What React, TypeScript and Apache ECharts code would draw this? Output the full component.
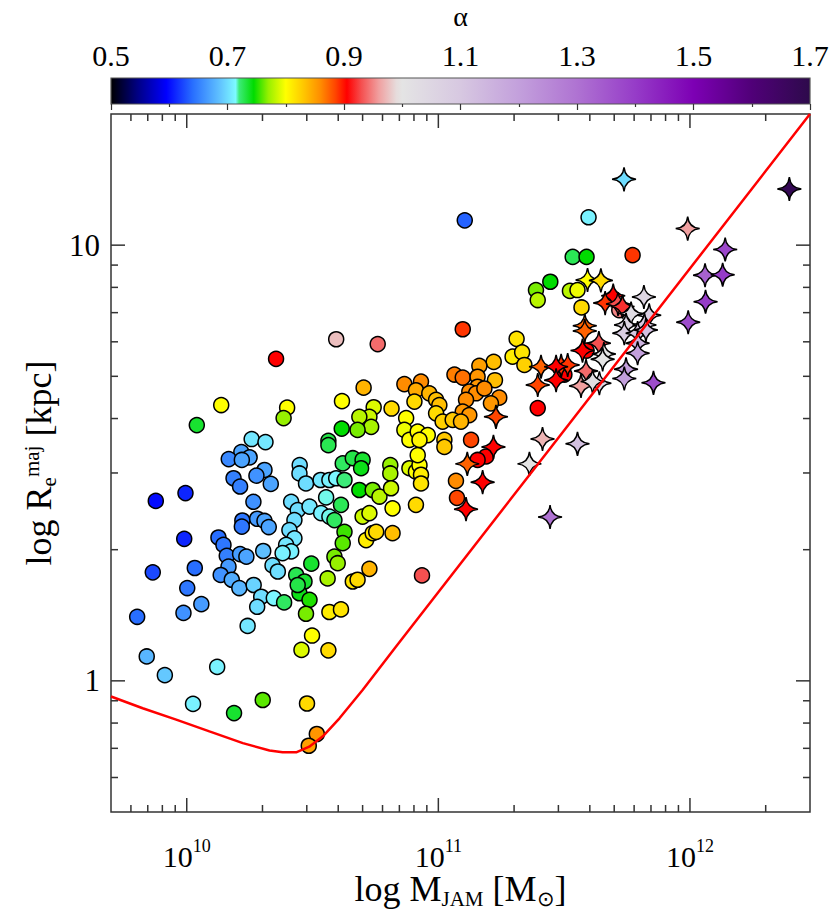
import React, { useEffect, useRef } from 'react';
import * as echarts from 'echarts';

// ---- data (log10 values) ----
const circleLogM = [
  9.877, 9.995, 9.990, 9.865, 10.032, 10.002, 10.058, 9.987, 9.803, 9.841, 9.913, 10.121, 10.242, 10.025, 10.188, 10.302, 10.478, 10.517, 10.485,
  10.355, 10.594, 10.137, 10.399, 10.385, 10.040, 10.258, 10.313, 10.217, 10.250, 10.167, 10.219, 10.309, 10.449, 10.563, 10.563,
  10.186, 10.212, 10.277, 10.334, 10.265, 10.221, 10.219, 10.280, 10.309, 10.326, 10.126, 10.146, 10.159, 10.212, 10.237, 10.304, 10.166, 10.135, 10.179, 10.209, 10.266, 10.296, 10.280, 10.341, 10.362, 10.346, 10.387,
  10.448, 10.474, 10.532, 10.567, 10.594, 10.627, 10.415, 10.441, 10.428, 10.408, 10.428, 10.395, 10.415, 10.381, 10.488, 10.534, 10.567, 10.554, 10.587, 10.613,
  10.495, 10.435, 10.468, 10.448, 10.441, 10.488, 10.474, 10.560, 10.498, 10.456, 10.563, 10.567, 10.613, 10.587, 10.600, 10.627, 10.620,
  10.620, 10.660, 10.699, 10.693, 10.686, 10.739, 10.766, 10.809, 10.809, 10.812, 10.818, 10.885, 10.911, 10.925, 10.931, 10.931, 10.918, 10.911,
  10.699, 10.726, 10.713, 10.739, 10.753, 10.818, 10.726, 10.660, 10.679, 10.935, 11.070, 11.074,
  11.105, 11.445, 11.388, 11.395, 11.097, 10.759, 11.311, 11.295, 11.333, 11.342, 11.220, 11.163, 11.064, 11.097, 11.225, 11.156, 11.156, 11.123, 11.150, 11.183, 11.110, 11.097, 11.123, 11.242, 11.209,
  10.865, 10.931, 10.911, 10.964, 10.991, 11.004, 10.703, 10.905, 10.814, 10.743, 10.726, 10.686, 10.733, 10.679, 10.617, 10.616, 10.872, 10.865, 10.885, 10.918, 10.958, 10.925, 10.991, 11.017, 11.057, 11.090, 11.024, 11.024,
  11.130, 11.190, 11.156, 11.395,
  11.597, 11.534, 11.589, 11.772, 11.523, 11.553, 11.569, 11.719, 11.589, 11.501,
];
const circleLogR = [
  0.413, 0.431, 0.326, 0.249, 0.259, 0.213, 0.176, 0.156, 0.147, 0.056, 0.013, 0.032, 0.126, -0.053, -0.074, -0.044, -0.052, -0.122, -0.149,
  0.739, 0.784, 0.633, 0.627, 0.603, 0.587, 0.555, 0.548, 0.525, 0.513, 0.509, 0.507, 0.484, 0.495, 0.551, 0.541,
  0.465, 0.446, 0.471, 0.452, 0.411, 0.368, 0.354, 0.372, 0.367, 0.353, 0.329, 0.312, 0.287, 0.291, 0.285, 0.298, 0.262, 0.243, 0.232, 0.213, 0.220, 0.193, 0.170, 0.265, 0.251, 0.190, 0.180,
  0.476, 0.453, 0.461, 0.461, 0.465, 0.461, 0.411, 0.392, 0.369, 0.346, 0.327, 0.312, 0.297, 0.293, 0.400, 0.385, 0.377, 0.421, 0.369, 0.404,
  0.269, 0.243, 0.228, 0.201, 0.220, 0.186, 0.154, 0.235, 0.104, 0.071, 0.070, 0.158, 0.164, 0.285, 0.270, 0.342, 0.316,
  0.499, 0.511, 0.507, 0.488, 0.438, 0.438, 0.423, 0.495, 0.476, 0.442, 0.396, 0.488, 0.480, 0.495, 0.473, 0.453, 0.518, 0.404,
  0.377, 0.385, 0.323, 0.339, 0.342, 0.339, 0.257, 0.228, 0.232, 0.242, 0.459, 0.420,
  1.057, 0.916, 0.897, 0.874, 0.807, 0.773, 0.785, 0.744, 0.754, 0.725, 0.732, 0.723, 0.703, 0.696, 0.690, 0.698, 0.675, 0.664, 0.660, 0.671, 0.645, 0.618, 0.610, 0.650, 0.637,
  0.681, 0.687, 0.667, 0.660, 0.645, 0.633, 0.673, 0.641, 0.625, 0.628, 0.606, 0.606, 0.583, 0.576, 0.642, 0.579, 0.603, 0.576, 0.553, 0.572, 0.564, 0.553, 0.614, 0.595, 0.599, 0.595, 0.553, 0.537,
  0.553, 0.515, 0.507, 0.626,
  1.064, 0.973, 0.973, 0.977, 0.895, 0.897, 0.857, 0.851, 0.758, 0.703,
];
const circleAlpha = [
  0.60, 0.61, 0.61, 0.625, 0.64, 0.645, 0.665, 0.66, 0.64, 0.68, 0.69, 0.71, 0.705, 0.71, 0.735, 0.76, 0.82, 0.855, 0.85,
  0.905, 0.975, 0.80, 0.80, 0.77, 0.735, 0.705, 0.705, 0.67, 0.67, 0.655, 0.67, 0.67, 0.70, 0.73, 0.728,
  0.65, 0.65, 0.66, 0.67, 0.66, 0.645, 0.645, 0.665, 0.67, 0.67, 0.64, 0.645, 0.65, 0.665, 0.67, 0.685, 0.665, 0.66, 0.675, 0.68, 0.695, 0.70, 0.70, 0.70, 0.70, 0.712, 0.725,
  0.70, 0.70, 0.705, 0.71, 0.712, 0.72, 0.70, 0.70, 0.70, 0.70, 0.705, 0.705, 0.71, 0.71, 0.705, 0.71, 0.715, 0.715, 0.725, 0.727,
  0.735, 0.728, 0.735, 0.74, 0.73, 0.75, 0.765, 0.775, 0.80, 0.79, 0.82, 0.81, 0.815, 0.765, 0.77, 0.755, 0.76,
  0.725, 0.73, 0.735, 0.74, 0.745, 0.765, 0.78, 0.77, 0.775, 0.785, 0.80, 0.79, 0.80, 0.80, 0.81, 0.815, 0.80, 0.82,
  0.785, 0.79, 0.81, 0.815, 0.82, 0.835, 0.84, 0.815, 0.82, 0.93, 0.86, 0.885,
  0.635, 0.745, 0.765, 0.78, 0.89, 0.94, 0.815, 0.81, 0.815, 0.825, 0.835, 0.85, 0.865, 0.87, 0.835, 0.855, 0.855, 0.86, 0.86, 0.86, 0.86, 0.855, 0.855, 0.86, 0.855,
  0.86, 0.86, 0.845, 0.84, 0.835, 0.835, 0.84, 0.82, 0.82, 0.79, 0.785, 0.78, 0.775, 0.765, 0.80, 0.745, 0.80, 0.795, 0.80, 0.80, 0.80, 0.805, 0.82, 0.825, 0.83, 0.84, 0.83, 0.83,
  0.885, 0.905, 0.905, 0.905,
  0.71, 0.727, 0.745, 0.89, 0.78, 0.795, 0.82, 0.95, 0.905, 0.905,
];

const starLogM = [11.738, 12.395, 11.991, 12.140, 12.060, 12.130, 12.062, 11.993, 11.855, 11.593, 11.646, 11.695, 11.663, 11.714, 11.732, 11.817, 11.766, 11.838, 11.746, 11.819, 11.739, 11.792, 11.825, 11.792, 11.792, 11.582, 11.582, 11.573, 11.638, 11.658, 11.653, 11.488, 11.514, 11.408, 11.468, 11.395, 11.468, 11.587, 11.567, 11.640, 11.613, 11.746, 11.739, 11.553, 11.414, 11.362, 11.444, 11.229, 11.219, 11.115, 11.176, 11.110];
const starLogR = [1.151, 1.129, 1.038, 0.990, 0.931, 0.932, 0.870, 0.823, 0.684, 0.920, 0.919, 0.884, 0.867, 0.865, 0.859, 0.881, 0.843, 0.839, 0.817, 0.817, 0.798, 0.798, 0.805, 0.775, 0.752, 0.815, 0.803, 0.758, 0.775, 0.750, 0.738, 0.723, 0.725, 0.721, 0.721, 0.679, 0.690, 0.711, 0.677, 0.683, 0.687, 0.715, 0.694, 0.544, 0.555, 0.498, 0.376, 0.606, 0.537, 0.498, 0.456, 0.394];
const starAlpha = [0.70, 1.68, 0.96, 1.38, 1.33, 1.40, 1.40, 1.37, 1.37, 0.80, 0.82, 0.905, 0.89, 0.93, 0.92, 1.05, 1.03, 1.08, 1.05, 1.10, 1.08, 1.10, 1.12, 1.15, 1.20, 0.875, 0.875, 0.905, 0.93, 1.0, 1.0, 0.89, 0.89, 0.875, 0.905, 0.885, 0.905, 0.94, 0.96, 1.05, 1.02, 1.20, 1.20, 1.12, 0.97, 1.0, 1.30, 0.885, 0.905, 0.875, 0.905, 0.905];

// zone-of-exclusion curve
const zoeLogM = [9.699, 9.825, 9.958, 10.090, 10.223, 10.329, 10.381, 10.435, 10.487, 10.540, 10.607, 10.699, 10.832, 11.441, 12.477];
const zoeLogR = [-0.036, -0.063, -0.089, -0.116, -0.143, -0.160, -0.164, -0.164, -0.151, -0.128, -0.086, -0.021, 0.079, 0.531, 1.301];

// axis ticks
const xMajorTicks = [1e10, 1e11, 1e12];
const xMinorTicks = [6e9, 7e9, 8e9, 9e9, 2e10, 3e10, 4e10, 5e10, 6e10, 7e10, 8e10, 9e10, 2e11, 3e11, 4e11, 5e11, 6e11, 7e11, 8e11, 9e11, 2e12];
const yMajorTicks = [1, 10];
const yMinorTicks = [0.6, 0.7, 0.8, 0.9, 2, 3, 4, 5, 6, 7, 8, 9];

// colour table (alpha -> rgb)
const cmAlpha = [0.50, 0.545, 0.595, 0.64, 0.69, 0.714, 0.72, 0.745, 0.77, 0.80, 0.83, 0.86, 0.885, 0.905, 0.93, 0.96, 0.99, 1.00, 1.10, 1.20, 1.30, 1.40, 1.50, 1.60, 1.70];
const cmRGB = [
  [0, 0, 0], [0, 0, 130], [0, 0, 255], [40, 110, 255], [100, 200, 255], [125, 250, 255], [60, 235, 120], [0, 220, 0],
  [150, 240, 0], [255, 255, 0], [255, 200, 0], [255, 140, 0], [255, 70, 0], [255, 0, 0], [245, 80, 80], [240, 160, 160],
  [230, 220, 220], [228, 228, 228], [215, 200, 225], [195, 160, 220], [175, 115, 210], [150, 60, 200], [125, 0, 180],
  [80, 0, 120], [45, 10, 75],
];
const cbMin = 0.5;
const cbMax = 1.7;

const FONT = "'Liberation Serif', 'Times New Roman', Times, serif";

function alphaColor(a: number): string {
  let c = cmRGB[cmRGB.length - 1];
  if (a <= cmAlpha[0]) c = cmRGB[0];
  else {
    for (let i = 1; i < cmAlpha.length; i++) {
      if (a <= cmAlpha[i]) {
        const t = (a - cmAlpha[i - 1]) / (cmAlpha[i] - cmAlpha[i - 1]);
        const p = cmRGB[i - 1], q = cmRGB[i];
        c = [0, 1, 2].map((k) => Math.round(p[k] + (q[k] - p[k]) * t));
        break;
      }
    }
  }
  return `rgb(${c[0]},${c[1]},${c[2]})`;
}

const STAR = 'path://M0,-10 Q0.9,-0.9 10,0 Q0.9,0.9 0,10 Q-0.9,0.9 -10,0 Q-0.9,-0.9 0,-10 Z';

export default function App() {
  const ref = useRef<HTMLDivElement>(null);
  useEffect(() => {
    if (!ref.current) return;
    const chart = echarts.init(ref.current, null, { renderer: 'svg' });

    const n1 = Math.min(circleLogM.length, circleLogR.length, circleAlpha.length);
    const circles = [];
    for (let i = 0; i < n1; i++) circles.push([Math.pow(10, circleLogM[i]), Math.pow(10, circleLogR[i]), circleAlpha[i]]);
    const n2 = Math.min(starLogM.length, starLogR.length, starAlpha.length);
    const stars = [];
    for (let i = 0; i < n2; i++) stars.push([Math.pow(10, starLogM[i]), Math.pow(10, starLogR[i]), starAlpha[i]]);
    const zoe = zoeLogM.map((m, i) => [Math.pow(10, m), Math.pow(10, zoeLogR[i])]);

    const tickData = [
      ...xMajorTicks.map((v) => [v, 1, 0]),
      ...xMinorTicks.map((v) => [v, 1, 1]),
      ...yMajorTicks.map((v) => [1e10, v, 2]),
      ...yMinorTicks.map((v) => [1e10, v, 3]),
    ];

    const stops = cmAlpha.map((a, i) => ({ offset: (a - cbMin) / (cbMax - cbMin), color: `rgb(${cmRGB[i].join(',')})` }));

    const big = 30;
    const small = 18;
    const title = 36;
    const titleSub = 21;

    const option = {
      animation: false,
      backgroundColor: '#fff',
      textStyle: { fontFamily: FONT, color: '#000' },
      grid: [
        { left: 111, right: 20, top: 114, bottom: 100, show: true, borderColor: '#333', borderWidth: 1.5, backgroundColor: 'transparent', containLabel: false, outerBoundsMode: 'none' },
        { left: 111, right: 20, top: 78, height: 26, containLabel: false, outerBoundsMode: 'none' },
      ],
      xAxis: [
        {
          type: 'log', logBase: 10, gridIndex: 0, min: 5e9, max: 3e12,
          axisLine: { show: false }, axisTick: { show: false }, splitLine: { show: false },
          axisLabel: {
            showMinLabel: false, showMaxLabel: false, margin: 25,
            formatter: (v: number) => `{b|10}{p|${Math.round(Math.log10(v))}}`,
            rich: {
              b: { fontSize: big, fontFamily: FONT, color: '#000', lineHeight: 34, verticalAlign: 'bottom' },
              p: { fontSize: small, fontFamily: FONT, color: '#000', lineHeight: 16, verticalAlign: 'top' },
            },
          },
          name: '{n|log M}{s|JAM}{n| [M}{s|⊙}{n|]}',
          nameLocation: 'middle', nameGap: 59, nameMoveOverlap: false,
          nameTextStyle: {
            rich: {
              n: { fontSize: title, fontFamily: FONT, color: '#000', lineHeight: 38, verticalAlign: 'top' },
              s: { fontSize: titleSub, fontFamily: FONT, color: '#000', lineHeight: 14, verticalAlign: 'bottom' },
            },
          },
        },
        {
          type: 'value', gridIndex: 1, min: cbMin, max: cbMax, interval: 0.2, position: 'top', z: 5,
          axisLine: { show: false },
          axisTick: { show: true, inside: true, length: 6, lineStyle: { color: '#333', width: 1.2 } },
          minorTick: { show: true, splitNumber: 2, length: 3, lineStyle: { color: '#333', width: 1.2 } },
          splitLine: { show: false }, minorSplitLine: { show: false },
          axisLabel: { fontSize: big, fontFamily: FONT, color: '#000', margin: 8, formatter: (v: number) => v.toFixed(1) },
          name: 'α', nameLocation: 'middle', nameGap: 48, nameMoveOverlap: false,
          nameTextStyle: { fontSize: 28, lineHeight: 28, fontFamily: FONT, color: '#000' },
        },
      ],
      yAxis: [
        {
          type: 'log', logBase: 10, gridIndex: 0, min: 0.5, max: 20,
          axisLine: { show: false }, axisTick: { show: false }, splitLine: { show: false },
          axisLabel: {
            showMinLabel: false, showMaxLabel: false, margin: 11, fontSize: 31, fontFamily: FONT, color: '#000',
            formatter: (v: number) => String(Math.round(v)),
          },
          name: '{n|log R}{s|e}{p|maj}{n| [kpc]}',
          nameLocation: 'middle', nameRotate: 90, nameGap: 52, nameMoveOverlap: false,
          nameTextStyle: {
            rich: {
              n: { fontSize: title, fontFamily: FONT, color: '#000', lineHeight: 38, verticalAlign: 'top' },
              s: { fontSize: titleSub, fontFamily: FONT, color: '#000', lineHeight: 14, verticalAlign: 'bottom' },
              p: { fontSize: titleSub, fontFamily: FONT, color: '#000', lineHeight: 14, verticalAlign: 'top' },
            },
          },
        },
        { type: 'value', gridIndex: 1, min: 0, max: 1, show: false },
      ],
      series: [
        {
          type: 'custom', xAxisIndex: 1, yAxisIndex: 1, silent: true, z: 1,
          data: [[cbMin, 0]],
          renderItem: (params: any, api: any) => {
            const p0 = api.coord([cbMin, 0]);
            const p1 = api.coord([cbMax, 1]);
            return {
              type: 'rect',
              shape: { x: p0[0], y: p1[1], width: p1[0] - p0[0], height: p0[1] - p1[1] },
              style: { fill: new echarts.graphic.LinearGradient(0, 0, 1, 0, stops), stroke: '#555', lineWidth: 1.2 },
            };
          },
        },
        {
          type: 'scatter', xAxisIndex: 0, yAxisIndex: 0, z: 3,
          symbol: 'circle', symbolSize: 15,
          data: circles,
          itemStyle: { color: (p: any) => alphaColor(p.value[2]), borderColor: '#000', borderWidth: 1.5, opacity: 1 },
        },
        {
          type: 'scatter', xAxisIndex: 0, yAxisIndex: 0, z: 4,
          symbol: STAR, symbolSize: 24, symbolKeepAspect: true,
          data: stars,
          itemStyle: { color: (p: any) => alphaColor(p.value[2]), borderColor: '#000', borderWidth: 1.5, opacity: 1 },
        },
        {
          type: 'line', xAxisIndex: 0, yAxisIndex: 0, z: 5,
          data: zoe, showSymbol: false, symbol: 'none', smooth: false,
          lineStyle: { color: '#ff0000', width: 2.5 },
        },
        {
          type: 'custom', xAxisIndex: 0, yAxisIndex: 0, silent: true, z: 6,
          data: tickData, encode: { x: 0, y: 1 },
          renderItem: (params: any, api: any) => {
            const cs = params.coordSys;
            const kind = api.value(2);
            const style = { stroke: '#333', lineWidth: 1.5 };
            if (kind < 2) {
              const len = kind === 0 ? 14 : 7;
              const px = api.coord([api.value(0), 1])[0];
              return {
                type: 'group',
                children: [
                  { type: 'line', shape: { x1: px, y1: cs.y + cs.height, x2: px, y2: cs.y + cs.height - len }, style },
                  { type: 'line', shape: { x1: px, y1: cs.y, x2: px, y2: cs.y + len }, style },
                ],
              };
            }
            const len = kind === 2 ? 14 : 7;
            const py = api.coord([1e10, api.value(1)])[1];
            return {
              type: 'group',
              children: [
                { type: 'line', shape: { x1: cs.x, y1: py, x2: cs.x + len, y2: py }, style },
                { type: 'line', shape: { x1: cs.x + cs.width, y1: py, x2: cs.x + cs.width - len, y2: py }, style },
              ],
            };
          },
        },
      ],
    };
    chart.setOption(option as any);
    return () => chart.dispose();
  }, []);
  return <div ref={ref} style={{ position: 'fixed', left: 0, top: 0, width: 830, height: 912, background: '#fff' }} />;
}
